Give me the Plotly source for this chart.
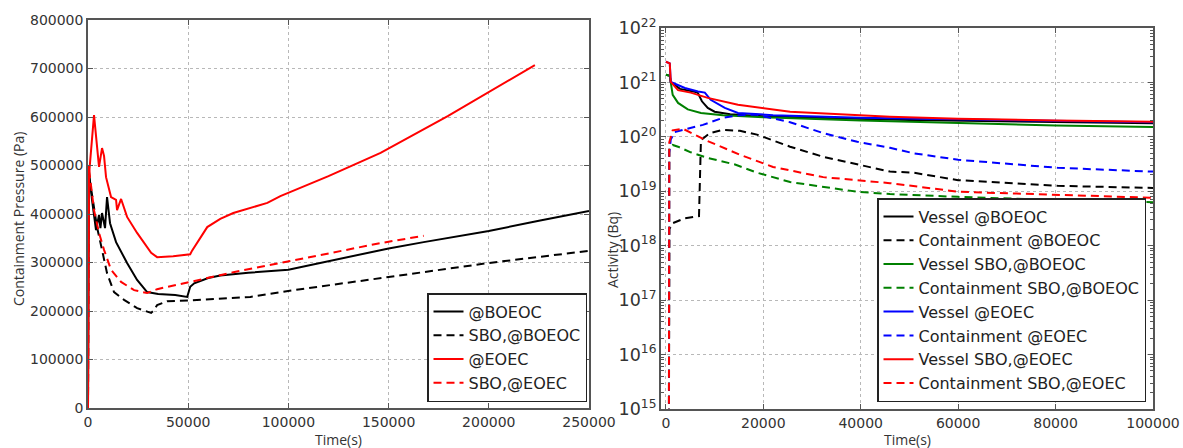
import plotly.graph_objects as go

# ---------------- Left panel: containment pressure ----------------
t_boeoc = [0, 500, 2000, 4000, 5500, 6200, 7000, 8500, 9500, 11000, 14000, 16500, 19500, 24500,
           29500, 35000, 43500, 49500, 51000, 53000, 56000, 60000, 66000, 80000, 100000, 120000,
           140000, 150000, 167500, 200000, 225000, 250000]
p_boeoc = [0, 487000, 429000, 367000, 398000, 371000, 402000, 371000, 435000, 381000, 342000, 322000,
           299000, 264000, 239000, 235000, 233000, 229000, 250000, 257000, 262000, 268000, 273000, 279000,
           285000, 303000, 320000, 329000, 342000, 365000, 386000, 406000]

t_sbo_boeoc = [0, 300, 2000, 4500, 7000, 9500, 13000, 18000, 24500, 31500, 32500, 34500, 39500, 51000,
               81000, 106000, 150000, 200000, 250000]
p_sbo_boeoc = [0, 480000, 440000, 373000, 326000, 278000, 239000, 223000, 206000, 196000, 200000, 212000,
               220000, 222000, 229000, 245000, 270000, 299000, 324000]

t_eoec = [0, 500, 1000, 3000, 5500, 7000, 8000, 9000, 11500, 14000, 14500, 16500, 19500, 24500, 31500,
          34500, 42500, 51000, 52000, 55000, 59500, 66000, 72500, 89500, 96000, 120000, 146000, 179500,
          200000, 223000]
p_eoec = [0, 480000, 505000, 604000, 497000, 536000, 520000, 476000, 435000, 429000, 408000, 431000,
          394000, 361000, 320000, 311000, 313000, 317000, 325000, 345000, 373000, 390000, 402000, 423000,
          437000, 478000, 526000, 602000, 652000, 707000]

t_sbo_eoec = [0, 300, 3000, 5500, 8000, 11500, 16500, 23000, 29500, 34500, 51000, 72500, 96000, 146000, 167500]
p_sbo_eoec = [0, 500000, 408000, 361000, 326000, 285000, 260000, 243000, 237000, 245000, 260000, 280000,
              299000, 340000, 355000]

left_names = ["@BOEOC", "SBO,@BOEOC", "@EOEC", "SBO,@EOEC"]
left_colors = ["#000000", "#000000", "#ff0000", "#ff0000"]
left_dash = ["solid", "8px,5px", "solid", "8px,5px"]
left_t = [t_boeoc, t_sbo_boeoc, t_eoec, t_sbo_eoec]
left_p = [p_boeoc, p_sbo_boeoc, p_eoec, p_sbo_eoec]

left_xticks = [0, 50000, 100000, 150000, 200000, 250000]
left_yticks = [0, 100000, 200000, 300000, 400000, 500000, 600000, 700000, 800000]

# ---------------- Right panel: activity ----------------
t_v_boeoc = [0, 800, 1000, 2900, 6400, 6600, 7400, 8600, 10000, 13200, 20000, 30000, 50000, 75000, 100000]
a_v_boeoc = [1.38e21, 1.32e21, 1.02e21, 7.6e20, 6.6e20, 6.3e20, 4.5e20, 3.4e20, 2.9e20, 2.6e20, 2.4e20,
             2.24e20, 2.04e20, 1.9e20, 1.78e20]

t_c_boeoc = [0, 600, 700, 1400, 3900, 6200, 6800, 7200, 9000, 11700, 15200, 18700, 25500, 32300, 39300,
             46000, 50800, 60000, 80400, 100000]
a_c_boeoc = [1e13, 1e13, 2.0e18, 2.6e18, 3.2e18, 3.4e18, 3.5e18, 8.7e19, 1.17e20, 1.35e20, 1.29e20, 1.1e20,
             6.6e19, 4.3e19, 3.1e19, 2.3e19, 2.2e19, 1.6e19, 1.26e19, 1.15e19]

t_v_sbo_boeoc = [0, 800, 1400, 2500, 4500, 7200, 11700, 20000, 40000, 60000, 80000, 100000]
a_v_sbo_boeoc = [1.38e21, 1.32e21, 5.9e20, 4.2e20, 3.2e20, 2.75e20, 2.5e20, 2.3e20, 2.0e20, 1.78e20,
                 1.62e20, 1.51e20]

t_c_sbo_boeoc = [0, 600, 700, 1400, 2500, 5100, 8600, 14200, 18700, 25500, 39300, 46000, 60000, 80400, 100000]
a_c_sbo_boeoc = [1e13, 1e13, 6.3e19, 7.1e19, 6.6e19, 5.2e19, 4.1e19, 3.1e19, 2.2e19, 1.48e19, 9.8e18,
                 8.9e18, 7.9e18, 6.9e18, 6.3e18]

t_v_eoec = [0, 800, 1000, 3900, 6600, 8000, 9200, 12100, 14800, 22000, 40000, 60000, 80000, 100000]
a_v_eoec = [2.4e21, 2.24e21, 1.02e21, 7.9e20, 6.8e20, 6.5e20, 4.8e20, 3.4e20, 2.75e20, 2.5e20, 2.24e20,
            2.1e20, 1.95e20, 1.86e20]

t_c_eoec = [0, 600, 700, 1000, 1800, 4900, 7600, 11700, 15200, 18500, 25500, 32300, 39300, 46000, 50800,
            60000, 71300, 80400, 100000]
a_c_eoec = [1e13, 1e13, 5.0e19, 8.9e19, 1.23e20, 1.45e20, 1.66e20, 2.24e20, 2.5e20, 2.57e20, 1.86e20,
            1.17e20, 8.1e19, 6.3e19, 5.0e19, 3.8e19, 3.1e19, 2.7e19, 2.3e19]

t_v_sbo_eoec = [0, 800, 1000, 2500, 5100, 8600, 14800, 25500, 46000, 60000, 80000, 100000]
a_v_sbo_eoec = [2.4e21, 2.24e21, 1.02e21, 7.2e20, 6.5e20, 5.2e20, 3.9e20, 2.9e20, 2.34e20, 2.14e20,
                2.0e20, 1.9e20]

t_c_sbo_eoec = [0, 600, 700, 1400, 3500, 8400, 15200, 22000, 32300, 46000, 60000, 80400, 100000]
a_c_sbo_eoec = [1e13, 1e13, 7.9e19, 1.32e20, 1.41e20, 8.5e19, 4.7e19, 2.8e19, 1.82e19, 1.41e19, 9.8e18,
                8.5e18, 7.6e18]

right_names = ["Vessel @BOEOC", "Containment @BOEOC", "Vessel SBO,@BOEOC", "Containment SBO,@BOEOC",
               "Vessel @EOEC", "Containment @EOEC", "Vessel SBO,@EOEC", "Containment SBO,@EOEC"]
right_colors = ["#000000", "#000000", "#008000", "#008000", "#0000ff", "#0000ff", "#ff0000", "#ff0000"]
right_dash = ["solid", "8px,5px"] * 4
right_t = [t_v_boeoc, t_c_boeoc, t_v_sbo_boeoc, t_c_sbo_boeoc, t_v_eoec, t_c_eoec, t_v_sbo_eoec, t_c_sbo_eoec]
right_a = [a_v_boeoc, a_c_boeoc, a_v_sbo_boeoc, a_c_sbo_boeoc, a_v_eoec, a_c_eoec, a_v_sbo_eoec, a_c_sbo_eoec]

right_xticks = [0, 20000, 40000, 60000, 80000, 100000]

# ---------------- Figure ----------------
W, H = 1183, 448
FONT = "DejaVu Sans"
TICKCOL = "#333333"
FRAME = "#555555"

fig = go.Figure()
for name, c, d, t, p in zip(left_names, left_colors, left_dash, left_t, left_p):
    fig.add_trace(go.Scatter(x=t, y=p, mode="lines", name=name, xaxis="x", yaxis="y",
                             line=dict(color=c, width=2, dash=d), legend="legend"))
for name, c, d, t, a in zip(right_names, right_colors, right_dash, right_t, right_a):
    fig.add_trace(go.Scatter(x=t, y=a, mode="lines", name=name, xaxis="x2", yaxis="y2",
                             line=dict(color=c, width=2, dash=d), legend="legend2"))

def px_x(v):
    return v / W

def px_y(v):
    return 1 - v / H

axis_common = dict(showline=True, linecolor=FRAME, linewidth=1.5, mirror="allticks",
                   ticks="inside", ticklen=5, tickcolor=FRAME, automargin=False,
                   showgrid=True, gridcolor="#b8b8b8", griddash="dot", gridwidth=1,
                   zeroline=False, tickfont=dict(family=FONT, size=14, color=TICKCOL))

fig.update_layout(
    width=W, height=H,
    margin=dict(l=0, r=0, t=0, b=0, autoexpand=False),
    paper_bgcolor="white", plot_bgcolor="white",
    xaxis=dict(domain=[px_x(88), px_x(589)], range=[0, 250000], tickvals=left_xticks,
               tickformat="d", anchor="y", **axis_common),
    yaxis=dict(domain=[px_y(408), px_y(20)], range=[0, 800000], tickvals=left_yticks,
               tickformat="d", anchor="x", **axis_common),
    xaxis2=dict(domain=[px_x(661), px_x(1153)], range=[-1000, 100000], tickvals=right_xticks,
                tickformat="d", anchor="y2", **axis_common),
    yaxis2=dict(domain=[px_y(409), px_y(28)], type="log", range=[15, 22], dtick=1,
                exponentformat="power", showexponent="all", anchor="x2",
                minor=dict(ticks="inside", ticklen=3, tickcolor=FRAME, showgrid=False),
                **axis_common),
    legend=dict(x=px_x(587), xanchor="right", y=px_y(402), yanchor="bottom",
                bordercolor="#222222", borderwidth=1.5, bgcolor="white",
                font=dict(family=FONT, size=16, color="#222222"), tracegroupgap=0),
    legend2=dict(x=px_x(1146), xanchor="right", y=px_y(402), yanchor="bottom",
                 bordercolor="#222222", borderwidth=1.5, bgcolor="white",
                 font=dict(family=FONT, size=16, color="#222222"), tracegroupgap=0),
    showlegend=True,
)

ann_font = dict(family="Open Sans", size=14, color="#333333")
fig.add_annotation(text="Containment Pressure (Pa)", x=px_x(18), y=px_y(219), xref="paper", yref="paper",
                   textangle=-90, showarrow=False, font=ann_font, xanchor="center", yanchor="middle")
fig.add_annotation(text="Activity (Bq)", x=px_x(612), y=px_y(250), xref="paper", yref="paper",
                   textangle=-90, showarrow=False, font=ann_font, xanchor="center", yanchor="middle")
fig.add_annotation(text="Time(s)", x=px_x(338), y=px_y(439), xref="paper", yref="paper",
                   showarrow=False, font=ann_font, xanchor="center", yanchor="middle")
fig.add_annotation(text="Time(s)", x=px_x(907), y=px_y(439), xref="paper", yref="paper",
                   showarrow=False, font=ann_font, xanchor="center", yanchor="middle")

fig.write_html("out.html")
